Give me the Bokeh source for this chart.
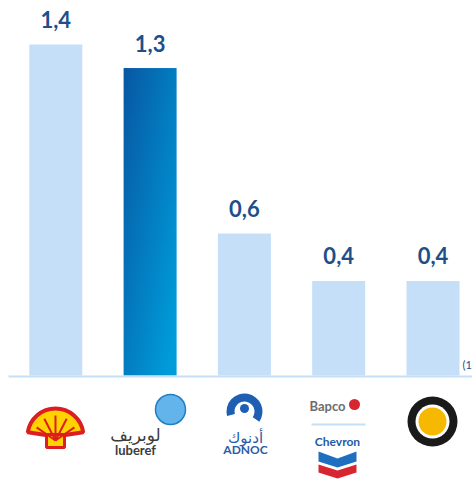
import numpy as np
from bokeh.plotting import figure
from bokeh.models import ColumnDataSource, Range1d
from bokeh.embed import file_html
from bokeh.resources import INLINE
from bokeh.core.properties import value

# ---- data ----
companies = ["Shell", "Luberef", "ADNOC", "Bapco / Chevron", "Sepahan Oil Company"]
capacity = [1.4, 1.3, 0.6, 0.4, 0.4]
value_labels = ["1,4", "1,3", "0,6", "0,4", "0,4"]
highlight = "Luberef"
note = "(1"

# ---- layout helpers (pixel -> data for decorations) ----
W, H = 472, 481
X0, DX = 55.3, 94.3      # px of first bar centre, px per category
Y0, DY = 375.0, 236.5    # px of zero line, px per unit
def X(px): return (px - X0) / DX
def Y(py): return (Y0 - py) / DY

BAR_W = 53 / DX
LIGHT = "#c5dff8"
NAVY = "#1d4f8a"

p = figure(width=W, height=H, output_backend="svg", toolbar_location=None,
           x_range=Range1d(X(0), X(W)), y_range=Range1d(Y(H), Y(0)),
           x_axis_type=None, y_axis_type=None, min_border=0,
           outline_line_color=None, background_fill_color="white",
           border_fill_color="white")
p.grid.visible = False

idx = list(range(len(companies)))
src = ColumnDataSource(dict(x=idx, v=capacity, lab=value_labels, name=companies))

# light bars
light_idx = [i for i in idx if companies[i] != highlight]
p.vbar(x=[idx[i] for i in light_idx], top=[capacity[i] for i in light_idx],
       bottom=0, width=BAR_W, fill_color=LIGHT, line_color=None)

# highlighted bar with gradient
hi = companies.index(highlight)
ny, nx = 200, 60
fy = np.linspace(0, 1, ny)[:, None]   # 0 bottom, 1 top
fx = np.linspace(0, 1, nx)[None, :]
s = np.clip(0.55 * fx + 0.55 * (1 - fy), 0, 1)
dark = np.array([8, 88, 163])
lite = np.array([0, 156, 218])
rgb = dark[None, None, :] + (lite - dark)[None, None, :] * s[:, :, None]
img = np.empty((ny, nx), dtype=np.uint32)
view = img.view(dtype=np.uint8).reshape((ny, nx, 4))
view[:, :, 0:3] = rgb.astype(np.uint8)
view[:, :, 3] = 255
p.image_rgba(image=[img], x=idx[hi] - BAR_W / 2, y=0, dw=BAR_W, dh=capacity[hi])

# baseline
p.segment(x0=X(8), y0=Y(376), x1=X(W), y1=Y(376), line_color=LIGHT, line_width=2)

# value labels
p.text(x="x", y="v", text="lab", source=src, text_font=value("Lato"),
       text_font_style="bold", text_font_size="22px", text_color=NAVY,
       text_align="center", text_baseline="alphabetic", y_offset=-25)

# footnote marker
p.text(x=[X(462)], y=[Y(364)], text=[note], text_font=value("Lato"),
       text_font_size="11px", text_color=NAVY, text_align="left",
       text_baseline="middle")

# ---- logo approximations ----
# Shell
p.wedge(x=[X(55)], y=[Y(436)], radius=28, radius_units="screen",
        start_angle=0.15, end_angle=np.pi - 0.15, fill_color="#ffd200",
        line_color="#dd1d21", line_width=4)
p.quad(left=[X(46)], right=[X(64)], bottom=[Y(447)], top=[Y(434)],
       fill_color="#ffd200", line_color="#dd1d21", line_width=3)
ang = np.linspace(0.45, np.pi - 0.45, 5)
p.segment(x0=[X(55)] * 5, y0=[Y(440)] * 5,
          x1=[X(55 + 21 * np.cos(a)) for a in ang],
          y1=[Y(436 - 21 * np.sin(a)) for a in ang],
          line_color="#dd1d21", line_width=2)

# Luberef
p.scatter(x=[X(170)], y=[Y(409)], size=30, marker="circle",
          fill_color="#62b4ea", line_color="#1f7fc7", line_width=1.5)
p.text(x=[X(135)], y=[Y(434)], text=["لوبريف"], text_font=value("DejaVu Sans"),
       text_font_size="17px", text_color="#3c3c3c", text_align="center",
       text_baseline="middle")
p.text(x=[X(135)], y=[Y(449)], text=["luberef"], text_font=value("Lato"),
       text_font_style="bold", text_font_size="13px", text_color="#3c3c3c",
       text_align="center", text_baseline="middle")

# ADNOC
p.annular_wedge(x=[X(244)], y=[Y(411)], inner_radius=10, outer_radius=18,
                inner_radius_units="screen", outer_radius_units="screen",
                start_angle=-0.6, end_angle=3.4, fill_color="#1e5fb4",
                line_color=None)
p.scatter(x=[X(244)], y=[Y(408)], size=9, marker="circle",
          fill_color="#1e5fb4", line_color=None)
p.text(x=[X(245)], y=[Y(437)], text=["أدنوك"], text_font=value("DejaVu Sans"),
       text_font_size="15px", text_color="#2a5caa", text_align="center",
       text_baseline="middle")
p.text(x=[X(245)], y=[Y(449)], text=["ADNOC"], text_font=value("Lato"),
       text_font_style="bold", text_font_size="12px", text_color="#2a5caa",
       text_align="center", text_baseline="middle")

# Bapco / Chevron
p.text(x=[X(327)], y=[Y(405)], text=["Bapco"], text_font=value("Lato"),
       text_font_style="bold", text_font_size="13px", text_color="#6d6d6d",
       text_align="center", text_baseline="middle")
p.scatter(x=[X(354)], y=[Y(404)], size=11, marker="circle",
          fill_color="#d7262f", line_color=None)
p.segment(x0=[X(311)], y0=[Y(424)], x1=[X(365)], y1=[Y(424)],
          line_color=LIGHT, line_width=2)
p.text(x=[X(337)], y=[Y(441)], text=["Chevron"], text_font=value("Lato"),
       text_font_style="bold", text_font_size="12px", text_color="#1e5aa8",
       text_align="center", text_baseline="middle")
p.patch(x=[X(318), X(337), X(356), X(356), X(337), X(318)],
        y=[Y(451), Y(458), Y(451), Y(461), Y(467), Y(461)],
        fill_color="#1e6fc0", line_color=None)
p.patch(x=[X(318), X(337), X(356), X(356), X(337), X(318)],
        y=[Y(464), Y(470), Y(464), Y(472), Y(478), Y(472)],
        fill_color="#d7262f", line_color=None)

# Sepahan
p.scatter(x=[X(432)], y=[Y(421)], size=50, marker="circle",
          fill_color="#1a1a1a", line_color=None)
p.scatter(x=[X(432)], y=[Y(421)], size=34, marker="circle",
          fill_color="white", line_color=None)
p.scatter(x=[X(432)], y=[Y(421)], size=28, marker="circle",
          fill_color="#f6b800", line_color=None)

open("out.html", "w").write(file_html(p, INLINE))
